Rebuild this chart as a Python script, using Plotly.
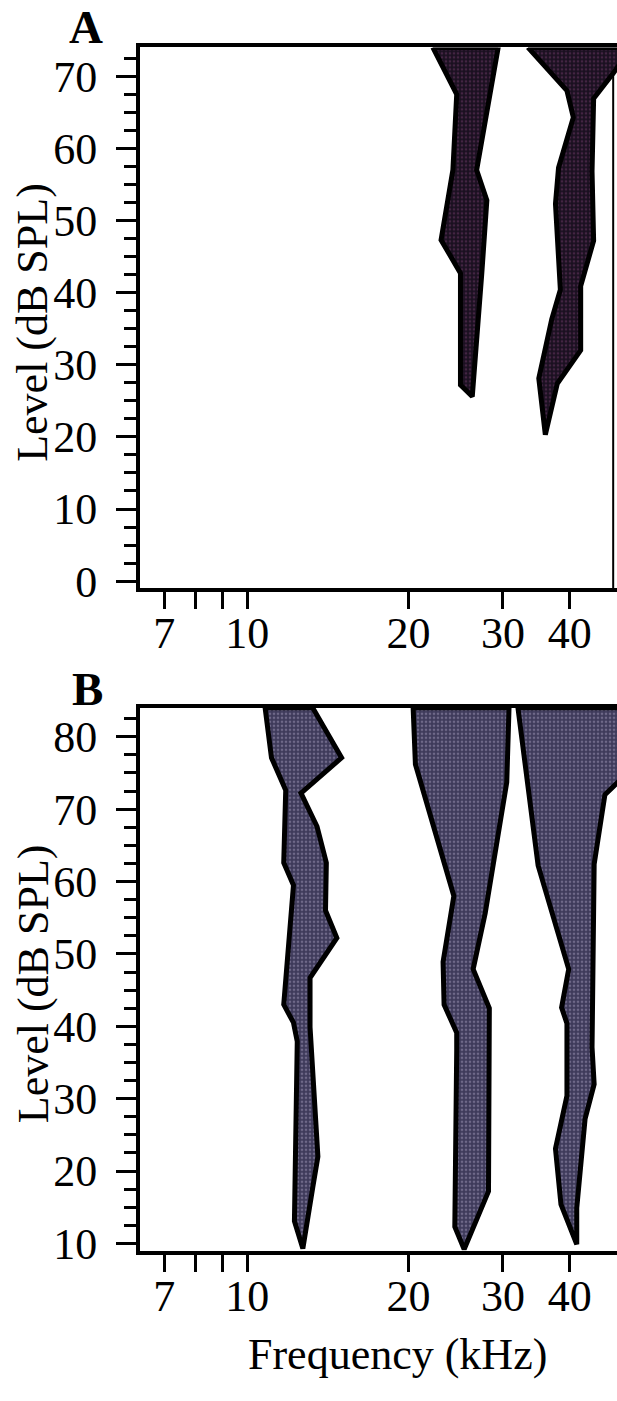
import plotly.graph_objects as go

W, H = 617, 1401
SERIF = "Liberation Serif"

# ---- Panel A response areas (level in dB SPL, frequency in kHz) ----
# each area: left edge listed top -> bottom, right edge listed bottom -> top
a1_left_db = [74, 67.5, 57.0, 47.3, 42.7, 27.2, 25.6]
a1_left_khz = [22.2, 24.6, 24.2, 23.0, 25.0, 25.0, 26.3]
a1_right_db = [35.4, 42.7, 52.8, 57.0, 74]
a1_right_khz = [27.0, 27.4, 28.0, 26.8, 29.4]

a2_left_db = [74, 68.0, 64.3, 57.3, 52.3, 40.4, 36.3, 28.1, 20.3]
a2_left_khz = [33.4, 39.5, 40.6, 38.1, 37.6, 38.4, 37.0, 35.0, 36.0]
a2_right_db = [27.4, 32.0, 40.9, 47.2, 56.8, 66.9, 70.5, 74]
a2_right_khz = [37.9, 41.9, 41.9, 44.3, 44.0, 44.3, 48.3, 52.0]

# ---- Panel B response areas ----
b1_left_db = [84, 77.1, 72.6, 62.6, 59.5, 43.0, 40.5, 37.9, 13.1, 9.3]
b1_left_khz = [10.8, 11.1, 11.8, 11.7, 12.2, 11.7, 12.2, 12.4, 12.25, 12.7]
b1_right_db = [17.7, 22.0, 39.9, 46.7, 52.2, 56.0, 62.6, 67.6, 72.2, 77.1, 84]
b1_right_khz = [13.25, 13.55, 13.1, 13.1, 14.7, 14.0, 14.05, 13.5, 12.6, 15.0, 13.25]

b2_left_db = [84, 76.2, 58.0, 48.9, 43.0, 39.1, 36.7, 12.3, 9.2]
b2_left_khz = [20.4, 20.6, 24.3, 23.2, 23.3, 24.6, 24.6, 24.4, 25.4]
b2_right_db = [17.2, 42.5, 47.9, 55.6, 73.7, 84]
b2_right_khz = [28.2, 28.3, 26.4, 27.8, 30.5, 30.8]

b3_left_db = [84, 62.2, 47.9, 42.6, 40.4, 30.4, 23.1, 15.4, 9.9]
b3_left_khz = [32.0, 34.9, 39.8, 38.6, 39.5, 39.5, 37.6, 38.5, 41.2]
b3_right_db = [14.9, 27.2, 32.0, 37.1, 46.7, 62.4, 72.0, 75.5, 84]
b3_right_khz = [41.2, 42.7, 44.4, 44.0, 44.1, 44.4, 46.5, 52.0, 52.0]

# axis ticks
freq_ticks = [7, 8, 9, 10, 20, 30, 40]
freq_labels = ["7", "", "", "10", "20", "30", "40"]

# ---- layout geometry (pixels) ----
X_LEFT = 140
A_TOP, A_BOT = 48, 596
B_TOP, B_BOT = 717, 1267
LOG_RANGE = [0.8, 1.69]


def ydom(top, bot):
    return [1 - bot / H, 1 - top / H]


def area(left_db, left_khz, right_db, right_khz, xa, ya, bg, fg):
    xs = list(left_khz) + list(right_khz) + [left_khz[0]]
    ys = list(left_db) + list(right_db) + [left_db[0]]
    return go.Scatter(
        x=xs, y=ys, xaxis=xa, yaxis=ya, mode="lines", fill="toself",
        fillcolor=bg,
        fillpattern=dict(shape=".", bgcolor=bg, fgcolor=fg, size=4, solidity=0.35),
        line=dict(color="black", width=5), hoverinfo="skip", showlegend=False,
    )


A_BG, A_FG = "#1a1020", "#6e3a66"
B_BG, B_FG = "#3e3a5a", "#a098b8"

fig = go.Figure()
fig.add_trace(area(a1_left_db, a1_left_khz, a1_right_db, a1_right_khz, "x", "y", A_BG, A_FG))
fig.add_trace(area(a2_left_db, a2_left_khz, a2_right_db, a2_right_khz, "x", "y", A_BG, A_FG))
fig.add_trace(area(b1_left_db, b1_left_khz, b1_right_db, b1_right_khz, "x2", "y2", B_BG, B_FG))
fig.add_trace(area(b2_left_db, b2_left_khz, b2_right_db, b2_right_khz, "x2", "y2", B_BG, B_FG))
fig.add_trace(area(b3_left_db, b3_left_khz, b3_right_db, b3_right_khz, "x2", "y2", B_BG, B_FG))

tickfont = dict(family=SERIF, size=44, color="black")
xcommon = dict(
    type="log", range=LOG_RANGE, domain=[X_LEFT / W, 1],
    tickvals=freq_ticks, ticktext=freq_labels,
    ticks="outside", ticklen=17, tickwidth=3, tickcolor="black",
    showline=True, linewidth=4, linecolor="black", mirror=True,
    showgrid=False, zeroline=False, tickfont=tickfont, ticklabelstandoff=-14,
)
ycommon = dict(
    dtick=10, tick0=0, ticks="outside", ticklen=20, tickwidth=3, tickcolor="black",
    minor=dict(dtick=2.5, tick0=0, ticks="outside", ticklen=12, tickwidth=3,
               tickcolor="black", showgrid=False),
    showline=True, linewidth=4, linecolor="black",
    showgrid=False, zeroline=False, tickfont=tickfont, ticklabelstandoff=10,
)

fig.update_layout(
    width=W, height=H, margin=dict(l=0, r=0, t=0, b=0),
    paper_bgcolor="white", plot_bgcolor="white",
    xaxis=dict(anchor="y", **xcommon),
    yaxis=dict(anchor="x", domain=ydom(A_TOP, A_BOT), range=[-1, 74], **ycommon),
    xaxis2=dict(anchor="y2", **xcommon),
    yaxis2=dict(anchor="x2", domain=ydom(B_TOP, B_BOT), range=[9, 84], **ycommon),
)

# right border of panel A
fig.add_shape(type="line", xref="x domain", yref="y domain", x0=0.992, x1=0.992,
              y0=0, y1=0.96, line=dict(color="black", width=2), layer="below")

ann_font = dict(family=SERIF, size=44, color="black")
for top, bot in [(A_TOP, A_BOT), (B_TOP, B_BOT)]:
    fig.add_annotation(text="Level (dB SPL)", xref="paper", yref="paper",
                       x=33 / W, y=1 - ((top + bot) / 2 + 5) / H, textangle=-90,
                       showarrow=False, font=ann_font, xanchor="center", yanchor="middle")

panel_font = dict(family=SERIF, size=47, color="black")
fig.add_annotation(text="<b>A</b>", xref="paper", yref="paper", x=67 / W, y=1 - 27 / H,
                   showarrow=False, font=panel_font, xanchor="left", yanchor="middle")
fig.add_annotation(text="<b>B</b>", xref="paper", yref="paper", x=70 / W, y=1 - 698 / H,
                   showarrow=False, font=panel_font, xanchor="left", yanchor="middle")
fig.add_annotation(text="Frequency (kHz)", xref="paper", yref="paper", x=397 / W,
                   y=1 - 1372 / H, showarrow=False, font=ann_font,
                   xanchor="center", yanchor="middle")

fig.write_html("out.html")
